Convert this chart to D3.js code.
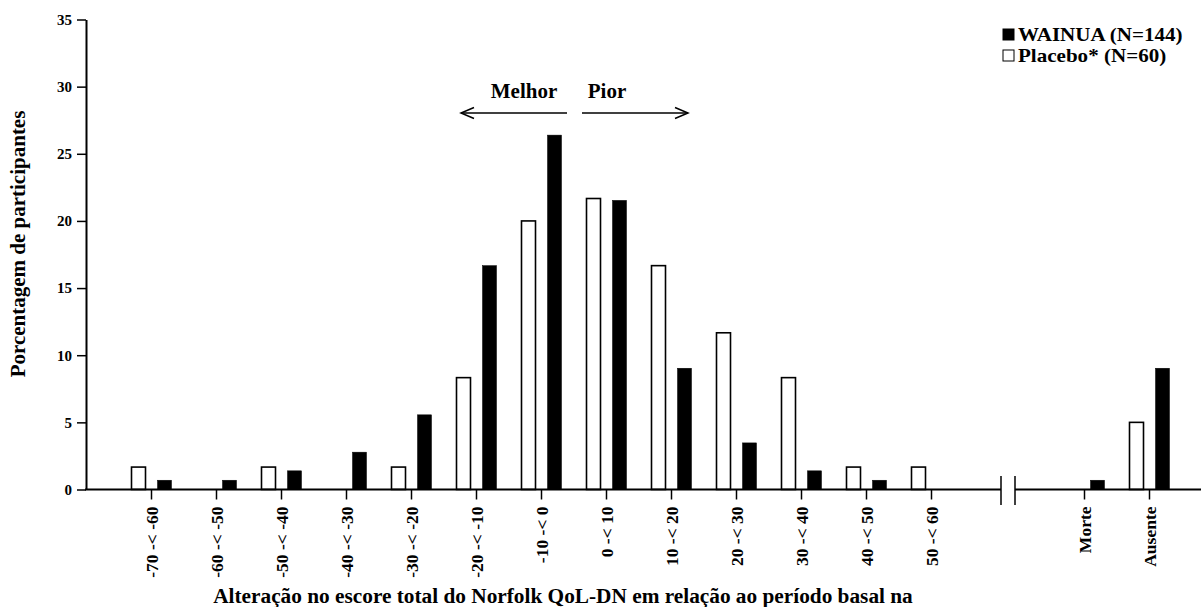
<!DOCTYPE html>
<html>
<head>
<meta charset="utf-8">
<script src="https://cdn.jsdelivr.net/npm/d3@7"></script>
<style>
  html, body { margin: 0; padding: 0; background: #fff; }
  svg text { font-family: "Liberation Serif", "Times New Roman", serif; font-weight: bold; fill: #000; }
</style>
</head>
<body>
<svg id="chart" width="1201" height="607"></svg>
<script>
// Distribution of change in Norfolk QoL-DN total score, % of participants
const mainCategories = ["-70 -< -60", "-60 -< -50", "-50 -< -40", "-40 -< -30", "-30 -< -20",
  "-20 -< -10", "-10 -< 0", "0 -< 10", "10 -< 20", "20 -< 30", "30 -< 40", "40 -< 50", "50 -< 60"];
const extraCategories = ["Morte", "Ausente"];

const wainuaMain  = [0.69, 0.69, 1.39, 2.78, 5.56, 16.67, 26.39, 21.53, 9.03, 3.47, 1.39, 0.69, 0];
const placeboMain = [1.67, 0, 1.67, 0, 1.67, 8.33, 20.00, 21.67, 16.67, 11.67, 8.33, 1.67, 1.67];
const wainuaExtra  = [0.69, 9.03];
const placeboExtra = [0, 5.00];

const yTicks = [0, 5, 10, 15, 20, 25, 30, 35];
const seriesNames = ["Placebo", "WAINUA"];
const legendLabels = ["WAINUA (N=144)", "Placebo* (N=60)"];

const svg = d3.select("#chart");

const axisX0 = 86;
const baseY = 489.5;
const y = d3.scaleLinear().domain([0, 35]).range([baseY, 19.5]);

const xMain = d3.scalePoint().domain(mainCategories).range([151, 931]);
const xExtra = d3.scalePoint().domain(extraCategories).range([1084, 1149]);
const sub = d3.scaleBand().domain(seriesNames).range([-19.5, 20.5]).paddingInner(12 / 26);

const fill = { Placebo: "#fff", WAINUA: "#000" };

function drawBars(xScale, cats, placebo, wainua) {
  const rows = cats.map((c, i) => ({ cat: c, Placebo: placebo[i], WAINUA: wainua[i] }));
  const g = svg.append("g");
  rows.forEach(r => {
    seriesNames.forEach(s => {
      if (r[s] <= 0) return;
      g.append("rect")
        .attr("x", xScale(r.cat) + sub(s))
        .attr("y", y(r[s]))
        .attr("width", sub.bandwidth())
        .attr("height", baseY - y(r[s]))
        .attr("fill", fill[s])
        .attr("stroke", "#000")
        .attr("stroke-width", s === "Placebo" ? 1.6 : 0.5);
    });
  });
}
drawBars(xMain, mainCategories, placeboMain, wainuaMain);
drawBars(xExtra, extraCategories, placeboExtra, wainuaExtra);

// Y axis
const yAxis = svg.append("g")
  .attr("transform", `translate(${axisX0},0)`)
  .call(d3.axisLeft(y).tickValues(yTicks).tickSize(9).tickSizeOuter(0).tickPadding(5));
yAxis.select(".domain").attr("stroke-width", 2);
yAxis.selectAll(".tick line").attr("stroke-width", 1.5);
yAxis.selectAll(".tick text").style("font-size", "15px");

// X axes (split with a break)
function xAxisPart(scale) {
  const g = svg.append("g")
    .attr("transform", `translate(0,${baseY})`)
    .call(d3.axisBottom(scale).tickSize(10).tickSizeOuter(0));
  g.select(".domain").remove();
  g.selectAll(".tick line").attr("stroke-width", 1.5);
  g.selectAll(".tick text")
    .attr("transform", "rotate(-90)")
    .attr("x", -17)
    .attr("y", 0)
    .attr("dy", "0.35em")
    .style("text-anchor", "end")
    .style("font-size", "17.5px");
  return g;
}
xAxisPart(xMain);
xAxisPart(xExtra);

svg.append("line").attr("x1", axisX0 - 1).attr("x2", 1001).attr("y1", baseY).attr("y2", baseY)
  .attr("stroke", "#000").attr("stroke-width", 2);
svg.append("line").attr("x1", 1015).attr("x2", 1201).attr("y1", baseY).attr("y2", baseY)
  .attr("stroke", "#000").attr("stroke-width", 2);
[1001, 1015].forEach(bx => {
  svg.append("line").attr("x1", bx).attr("x2", bx).attr("y1", 476).attr("y2", 505)
    .attr("stroke", "#000").attr("stroke-width", 1.5);
});

// Axis titles
svg.append("text")
  .attr("transform", "translate(25,244) rotate(-90)")
  .attr("text-anchor", "middle")
  .style("font-size", "21px")
  .text("Porcentagem de participantes");

svg.append("text")
  .attr("x", 563).attr("y", 603)
  .attr("text-anchor", "middle")
  .style("font-size", "21.3px")
  .text("Alteração no escore total do Norfolk QoL-DN em relação ao período basal na");

// Direction arrows
function arrow(x1, x2, yy) {
  const dir = Math.sign(x2 - x1);
  svg.append("line").attr("x1", x1).attr("x2", x2).attr("y1", yy).attr("y2", yy)
    .attr("stroke", "#000").attr("stroke-width", 1.5);
  svg.append("path")
    .attr("d", `M${x2 - dir * 13},${yy - 5.5} L${x2},${yy} L${x2 - dir * 13},${yy + 5.5}`)
    .attr("fill", "none").attr("stroke", "#000").attr("stroke-width", 1.5);
}
arrow(567, 461, 113);
arrow(582, 688, 113);
svg.append("text").attr("x", 524).attr("y", 98).attr("text-anchor", "middle")
  .style("font-size", "21px").text("Melhor");
svg.append("text").attr("x", 607).attr("y", 98).attr("text-anchor", "middle")
  .style("font-size", "21px").text("Pior");

// Legend: wide bold labels, slightly stretched horizontally
const legend = svg.append("g").attr("transform", "translate(1003,29)");
legendLabels.forEach((lab, i) => {
  const row = legend.append("g").attr("transform", `translate(0,${i * 21})`);
  row.append("rect").attr("x", 0).attr("y", 0).attr("width", 11).attr("height", 11)
    .attr("fill", i === 0 ? "#000" : "#fff").attr("stroke", "#000").attr("stroke-width", 1);
  row.append("text")
    .attr("transform", "translate(15,12) scale(1.17,1)")
    .style("font-size", "18px")
    .text(lab);
});
</script>
</body>
</html>
